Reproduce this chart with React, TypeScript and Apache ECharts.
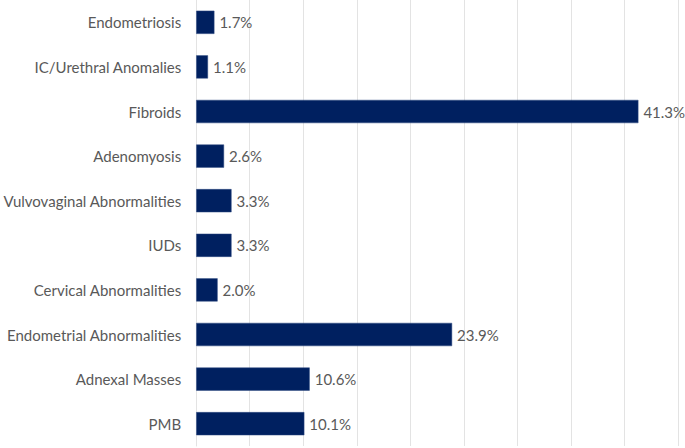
import React, { useEffect, useRef } from "react";
import * as echarts from "echarts";

const categories = [
  "Endometriosis",
  "IC/Urethral Anomalies",
  "Fibroids",
  "Adenomyosis",
  "Vulvovaginal Abnormalities",
  "IUDs",
  "Cervical Abnormalities",
  "Endometrial Abnormalities",
  "Adnexal Masses",
  "PMB",
];
const values = [1.7, 1.1, 41.3, 2.6, 3.3, 3.3, 2.0, 23.9, 10.6, 10.1];

export default function App() {
  const ref = useRef<HTMLDivElement>(null);
  useEffect(() => {
    if (!ref.current) return;
    const chart = echarts.init(ref.current, undefined, { renderer: "svg" });
    chart.setOption({
      animation: false,
      backgroundColor: "#ffffff",
      textStyle: { fontFamily: "Lato" },
      grid: { left: 196, right: 7, top: 0, bottom: 2, containLabel: false },
      xAxis: {
        type: "value",
        min: 0,
        max: 45,
        interval: 5,
        axisLabel: { show: false },
        axisLine: { show: false },
        axisTick: { show: false },
        splitLine: { show: true, lineStyle: { color: "#e3e3e3", width: 1 } },
      },
      yAxis: {
        type: "category",
        data: categories,
        inverse: true,
        axisTick: { show: false },
        axisLine: { show: true, lineStyle: { color: "#e3e3e3" } },
        axisLabel: { color: "#595959", fontSize: 15, margin: 15, fontFamily: "Lato" },
      },
      series: [
        {
          type: "bar",
          data: values,
          barCategoryGap: "48%",
          itemStyle: { color: "#002060", borderColor: "#2f4a80", borderWidth: 0.5 },
          label: {
            show: true,
            position: "right",
            distance: 5,
            color: "#595959",
            fontSize: 15,
            fontFamily: "Lato",
            formatter: (p: any) => p.value.toFixed(1) + "%",
          },
        },
      ],
    });
    return () => chart.dispose();
  }, []);
  return (
    <div
      ref={ref}
      style={{ position: "absolute", left: 0, top: 0, width: 685, height: 448 }}
    />
  );
}
